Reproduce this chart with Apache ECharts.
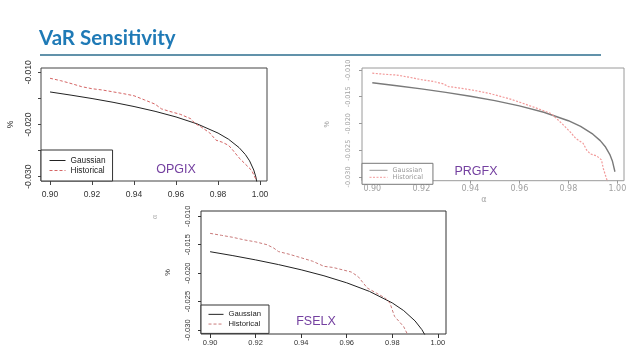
<!DOCTYPE html>
<html><head><meta charset="utf-8">
<script src="https://cdn.jsdelivr.net/npm/echarts@6/dist/echarts.min.js"></script>
<style>html,body{margin:0;padding:0;background:#fff}#c{width:638px;height:359px}</style>
</head><body><div id="c"></div>
<script>
// ---------- data ----------
const gaussianAlpha = [0.90,0.91,0.92,0.93,0.94,0.95,0.96,0.97,0.98,0.985,0.99,0.993,0.995,0.997,0.998,0.999];

const opgixGaussian = [-0.01377,-0.01438,-0.01503,-0.01575,-0.01656,-0.01748,-0.01856,-0.01988,-0.02165,-0.02283,-0.02443,-0.02576,-0.02697,-0.02873,-0.03006,-0.03222];
const opgixHistAlpha = [0.900,0.905,0.910,0.915,0.920,0.925,0.930,0.935,0.940,0.945,0.950,0.953,0.957,0.962,0.967,0.969,0.972,0.976,0.979,0.982,0.985,0.987,0.990,0.993,0.996,0.998];
const opgixHist = [-0.01115,-0.01160,-0.01215,-0.01275,-0.01315,-0.01340,-0.01375,-0.01410,-0.01450,-0.01530,-0.01610,-0.01700,-0.01750,-0.01805,-0.01890,-0.01980,-0.02050,-0.02160,-0.02300,-0.02340,-0.02400,-0.02490,-0.02640,-0.02760,-0.02880,-0.03050];

const prgfxGaussian = [-0.01239,-0.01294,-0.01353,-0.01418,-0.01490,-0.01573,-0.01671,-0.01790,-0.01949,-0.02056,-0.02200,-0.02321,-0.02430,-0.02588,-0.02708,-0.02903];
const prgfxHistAlpha = [0.900,0.905,0.910,0.915,0.920,0.925,0.929,0.931,0.936,0.942,0.948,0.952,0.956,0.960,0.964,0.968,0.973,0.975,0.978,0.981,0.983,0.985,0.986,0.9875,0.989,0.9915,0.9935,0.9943,0.9957,0.997];
const prgfxHist = [-0.01060,-0.01080,-0.01095,-0.01135,-0.01180,-0.01215,-0.01260,-0.01310,-0.01340,-0.01385,-0.01440,-0.01490,-0.01540,-0.01600,-0.01665,-0.01730,-0.01815,-0.01900,-0.02030,-0.02170,-0.02280,-0.02340,-0.02370,-0.02500,-0.02570,-0.02605,-0.02680,-0.02850,-0.03050,-0.03250];

const fselxGaussian = [-0.01623,-0.01692,-0.01767,-0.01849,-0.01941,-0.02046,-0.02170,-0.02321,-0.02523,-0.02658,-0.02840,-0.02993,-0.03131,-0.03331,-0.03483,-0.03730];
const fselxHistAlpha = [0.900,0.905,0.910,0.915,0.920,0.925,0.928,0.930,0.935,0.940,0.945,0.950,0.954,0.958,0.962,0.965,0.969,0.973,0.977,0.979,0.981,0.985,0.987];
const fselxHist = [-0.01300,-0.01335,-0.01370,-0.01415,-0.01450,-0.01500,-0.01560,-0.01620,-0.01670,-0.01730,-0.01790,-0.01880,-0.01900,-0.01940,-0.01980,-0.02060,-0.02260,-0.02350,-0.02440,-0.02530,-0.02760,-0.02940,-0.03100];

const xTickValues = [0.90,0.92,0.94,0.96,0.98,1.00];
const yTickValues = [-0.030,-0.025,-0.020,-0.015,-0.010];
const yLabelsSparse = [-0.030,-0.020,-0.010];
const seriesNames = ['Gaussian','Historical'];
const fundNames = ['OPGIX','PRGFX','FSELX'];
const titleText = 'VaR Sensitivity';

// ---------- helpers ----------
const pairs = (xs, ys) => xs.map((x, i) => [x, ys[i]]);
const RFONT = 'Liberation Sans';
const HIDE_SYMBOL = {color: 'rgba(0,0,0,0)', borderWidth: 0, opacity: 0};

function xAxis(gi, min, max, o) {
  return {
    type: 'value', gridIndex: gi, min: min, max: max,
    axisLine: {show: false},
    splitLine: {show: false},
    axisTick: {show: true, inside: false, length: o.tickLen, customValues: xTickValues,
      lineStyle: {color: o.tickColor, width: 1}},
    axisLabel: {customValues: xTickValues, formatter: v => v.toFixed(2), margin: o.margin,
      fontSize: o.fs, fontFamily: o.font || RFONT, color: o.color},
    name: o.name || '', nameLocation: 'middle', nameGap: o.nameGap || 0,
    nameTextStyle: o.nameStyle || {}
  };
}
function yAxis(gi, min, max, o) {
  return {
    type: 'value', gridIndex: gi, min: min, max: max,
    axisLine: {show: false},
    splitLine: {show: false},
    axisTick: {show: true, inside: false, length: o.tickLen, customValues: yTickValues,
      lineStyle: {color: o.tickColor, width: 1}},
    axisLabel: {customValues: o.labels, formatter: v => v.toFixed(3), rotate: 90, margin: o.margin,
      fontSize: o.fs, fontFamily: o.font || RFONT, color: o.color},
    name: '%', nameLocation: 'middle', nameRotate: 90, nameGap: o.nameGap,
    nameTextStyle: {fontSize: o.nameFs, fontFamily: RFONT, color: o.color}
  };
}
function line(gi, name, data, color, width, type) {
  return {
    type: 'line', name: name, xAxisIndex: gi, yAxisIndex: gi, data: data,
    symbol: 'none', showSymbol: false, clip: true, silent: true, animation: false,
    color: color, itemStyle: {color: color},
    lineStyle: {color: color, width: width, type: type}
  };
}

const RED1 = '#d56565', RED2 = '#f29a9a', RED3 = '#c97a7a';

const option = {
  backgroundColor: '#ffffff',
  animation: false,
  title: [{
    text: titleText, left: 39, top: 28, padding: 0,
    textStyle: {fontFamily: 'Lato', fontSize: 20.5, fontWeight: 'bold', color: '#1f7ab6'}
  }],
  grid: [
    {left: 41, top: 68, width: 226, height: 113, show: true, borderColor: '#444', borderWidth: 1, backgroundColor: 'transparent'},
    {left: 362, top: 68, width: 262, height: 112.7, show: true, borderColor: '#9a9a9a', borderWidth: 1, backgroundColor: 'transparent'},
    {left: 201, top: 211, width: 245, height: 123, show: true, borderColor: '#333', borderWidth: 1, backgroundColor: 'transparent'}
  ],
  xAxis: [
    xAxis(0, 0.8957, 1.0033, {tickLen: 4, tickColor: '#444', margin: 9, fs: 8.5, color: '#333'}),
    xAxis(1, 0.8958, 1.0027, {tickLen: 3, tickColor: '#999', margin: 4, fs: 8, color: '#a0a0a0', font: 'DejaVu Sans',
      name: 'α', nameGap: 15, nameStyle: {fontSize: 8, color: '#a0a0a0', fontFamily: 'DejaVu Sans', padding: [0, 18, 0, 0]}}),
    xAxis(2, 0.8960, 1.0036, {tickLen: 4, tickColor: '#333', margin: 4.5, fs: 7.5, color: '#333'})
  ],
  yAxis: [
    yAxis(0, -0.03083, -0.00918, {tickLen: 3, tickColor: '#444', margin: 7.5, fs: 8.5, color: '#333', labels: yLabelsSparse, nameGap: 26, nameFs: 8.5}),
    yAxis(1, -0.0307, -0.00963, {tickLen: 3, tickColor: '#999', margin: 10.5, fs: 6.5, color: '#a0a0a0', labels: yTickValues, nameGap: 31, nameFs: 7, font: 'DejaVu Sans'}),
    yAxis(2, -0.0307, -0.00907, {tickLen: 3, tickColor: '#333', margin: 9, fs: 7.5, color: '#333', labels: yTickValues, nameGap: 29.5, nameFs: 7.5})
  ],
  legend: [
    {left: 41, top: 150, orient: 'vertical', padding: [5.5, 7, 5.5, 8], itemGap: 0, itemWidth: 16, itemHeight: 10,
     backgroundColor: '#fff', borderColor: '#333', borderWidth: 1, selectedMode: false, z: 10,
     textStyle: {fontSize: 8.3, lineHeight: 10, fontFamily: RFONT, color: '#222'},
     data: [{name: seriesNames[0], itemStyle: HIDE_SYMBOL, lineStyle: {color: '#222', width: 1, type: 'solid'}},
            {name: seriesNames[1], itemStyle: HIDE_SYMBOL, lineStyle: {color: RED1, width: 1, type: [3, 2]}}]},
    {left: 362, top: 163.3, orient: 'vertical', padding: [3.5, 10, 3.5, 7], itemGap: 0, itemWidth: 18, itemHeight: 5,
     backgroundColor: '#fff', borderColor: '#777', borderWidth: 1, selectedMode: false, z: 10,
     textStyle: {fontSize: 6.5, lineHeight: 5, fontFamily: 'DejaVu Sans', color: '#999'},
     data: [{name: seriesNames[0], itemStyle: HIDE_SYMBOL, lineStyle: {color: '#999', width: 1, type: 'solid'}},
            {name: seriesNames[1], itemStyle: HIDE_SYMBOL, lineStyle: {color: RED2, width: 1, type: [2, 1.5]}}]},
    {left: 201, top: 305, orient: 'vertical', padding: [4.5, 8, 4.5, 7], itemGap: 0, itemWidth: 15, itemHeight: 9.7,
     backgroundColor: '#fff', borderColor: '#333', borderWidth: 1, selectedMode: false, z: 10,
     textStyle: {fontSize: 7.7, lineHeight: 9.7, fontFamily: RFONT, color: '#222'},
     data: [{name: seriesNames[0], itemStyle: HIDE_SYMBOL, lineStyle: {color: '#222', width: 1, type: 'solid'}},
            {name: seriesNames[1], itemStyle: HIDE_SYMBOL, lineStyle: {color: RED3, width: 1, type: [3, 2]}}]}
  ],
  series: [
    line(0, seriesNames[0], pairs(gaussianAlpha, opgixGaussian), '#222', 1, 'solid'),
    line(0, seriesNames[1], pairs(opgixHistAlpha, opgixHist), RED1, 1, [3, 2]),
    line(1, seriesNames[0], pairs(gaussianAlpha, prgfxGaussian), '#7a7a7a', 1.4, 'solid'),
    line(1, seriesNames[1], pairs(prgfxHistAlpha, prgfxHist), RED2, 1.2, [2, 1.5]),
    line(2, seriesNames[0], pairs(gaussianAlpha, fselxGaussian), '#222', 1, 'solid'),
    line(2, seriesNames[1], pairs(fselxHistAlpha, fselxHist), RED3, 1, [3, 2])
  ],
  graphic: [
    {type: 'line', shape: {x1: 40, y1: 55, x2: 601, y2: 55}, style: {stroke: '#2d6e8e', lineWidth: 1.5}, silent: true},
    {type: 'text', x: 176, y: 170, style: {text: fundNames[0], font: '12.5px "Liberation Sans"', fill: '#7440a0', align: 'center', verticalAlign: 'middle'}, z: 20},
    {type: 'text', x: 476, y: 172, style: {text: fundNames[1], font: '12.5px "Liberation Sans"', fill: '#7440a0', align: 'center', verticalAlign: 'middle'}, z: 20},
    {type: 'text', x: 316, y: 322, style: {text: fundNames[2], font: '12.5px "Liberation Sans"', fill: '#7440a0', align: 'center', verticalAlign: 'middle'}, z: 20},
    {type: 'text', x: 155, y: 217, rotation: Math.PI / 2, style: {text: 'α', font: '7px "Liberation Sans"', fill: '#aaa', align: 'center', verticalAlign: 'middle'}}
  ]
};

const chart = echarts.init(document.getElementById('c'), null, {renderer: 'canvas'});
chart.setOption(option);
</script>
</body></html>
